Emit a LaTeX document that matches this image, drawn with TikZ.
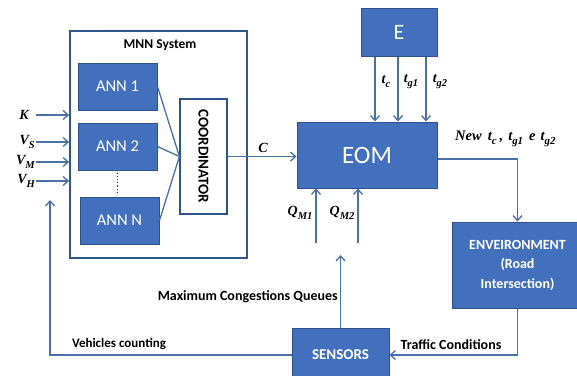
\documentclass[tikz,border=0pt]{standalone}
\usepackage{fontspec}
\setmainfont{Carlito}
\newfontfamily\labfont{Liberation Serif}
\usetikzlibrary{arrows.meta}
\definecolor{boxfill}{RGB}{66,112,188}
\definecolor{boxline}{RGB}{45,82,140}
\definecolor{conn}{RGB}{74,112,168}
\definecolor{framec}{RGB}{50,85,140}
\newcommand{\sbs}[1]{\raisebox{-0.28em}{\fontsize{0.75\dimexpr\fontdimen6\font\relax}{1em}\selectfont #1}}
\begin{document}
\begin{tikzpicture}[x=1pt,y=-1pt,
  bluebox/.style={draw=boxline,fill=boxfill,line width=1pt,text=white,inner sep=0pt},
  conline/.style={draw=conn,line width=1.3pt},
  arr/.style={conline,-{Straight Barb[length=5pt,width=9pt,line width=1.3pt]}},
  mlab/.style={font=\fontsize{14}{16}\selectfont\labfont\bfseries\itshape,inner sep=0pt},
  blab/.style={font=\fontsize{14}{16}\selectfont\bfseries,inner sep=0pt},
  anntext/.style={font=\fontsize{16.5}{18}\selectfont}]
\useasboundingbox (0,0) rectangle (577,375);
\fill[white] (0,0) rectangle (577,375);

% MNN system
\node[draw=framec,line width=1.8pt,fill=white,minimum width=177pt,minimum height=227pt,inner sep=0pt] (mnn) at (158.5,144.5) {};
\node[blab,font=\fontsize{13.5}{16}\selectfont\bfseries] (mnntitle) at (160,45) {MNN System};
\node[bluebox,anntext,minimum width=79pt,minimum height=47pt] (ann1) at (117.5,86.5) {ANN 1};
\node[bluebox,anntext,minimum width=79pt,minimum height=47pt] (ann2) at (117.5,146.5) {ANN 2};
\node[bluebox,anntext,minimum width=79pt,minimum height=47pt] (annN) at (119.5,220.5) {ANN N};
\draw[black!80,dotted,line width=1.2pt,shorten <=2pt,shorten >=2pt] (ann2.south) -- (ann2.south |- annN.north);
\node[draw=boxline,fill=white,line width=1.2pt,minimum width=47pt,minimum height=115pt,inner sep=0pt] (coord) at (203.5,156.5) {};
\node[rotate=-90,blab,font=\fontsize{15}{17}\selectfont\bfseries] (coordtext) at (coord.center) {COORDINATOR};
\draw[conline] (ann1.east) -- (coord.west);
\draw[conline] (ann2.east) -- (coord.west);
\draw[conline] (annN.east) -- (coord.west);

% inputs
\node[mlab,anchor=east] (k) at (29,115) {K};
\node[mlab,anchor=east] (vs) at (35,142) {V\sbs{S}};
\node[mlab,anchor=east] (vm) at (35,162) {V\sbs{M}};
\node[mlab,anchor=east] (vh) at (35,181) {V\sbs{H}};
\draw[arr] ([xshift=7pt]k.east) -- (mnn.west |- k.east);
\draw[arr] ([xshift=1pt]vs.east) -- (mnn.west |- vs.east);
\draw[arr] ([xshift=1pt]vm.east) -- (mnn.west |- vm.east);
\draw[arr] ([xshift=1pt]vh.east) -- (mnn.west |- vh.east);

% EOM and E
\node[bluebox,minimum width=140pt,minimum height=66pt,font=\fontsize{25}{28}\selectfont] (eom) at (367,155) {EOM};
\node[bluebox,minimum width=76pt,minimum height=48pt,font=\fontsize{22}{24}\selectfont] (e) at (399,32) {E};
\draw[arr] (coord.east) -- (eom.west |- coord.east);
\node[mlab] (clab) at (263,148) {C};
\draw[arr] ([xshift=-24pt]e.south) -- ([xshift=-24pt]e.south |- eom.north);
\draw[arr] ([xshift=-1pt]e.south) -- ([xshift=-1pt]e.south |- eom.north);
\draw[arr] ([xshift=27pt]e.south) -- ([xshift=27pt]e.south |- eom.north);
\node[mlab] (tc) at (386,82) {t\sbs{c}};
\node[mlab] (tg1) at (411,82) {t\sbs{g1}};
\node[mlab] (tg2) at (440,82) {t\sbs{g2}};

% environment
\node[bluebox,minimum width=131pt,minimum height=86pt,align=center,font=\fontsize{14}{19.5}\selectfont\bfseries] (env) at (517.5,265) {ENVEIRONMENT\\(Road\\Intersection)};
\draw[arr] ([yshift=-4pt]eom.east) -| (env.north);
\node[mlab,anchor=west,font=\fontsize{14.5}{17}\selectfont\labfont\bfseries\itshape] (newlab) at (455,139) {New\hspace{6pt}t\sbs{c}\hspace{3pt},\hspace{5pt}t\sbs{g1}\hspace{6pt}e\hspace{5pt}t\sbs{g2}};

% sensors
\node[bluebox,minimum width=97pt,minimum height=54pt,font=\fontsize{15}{17}\selectfont\bfseries] (sensors) at (340.5,355) {SENSORS};
\draw[arr] (env.south) |- (sensors.east);
\node[blab] (traffic) at (451,345) {Traffic Conditions};
\coordinate (mcq) at (340.5,255);
\draw[arr] (sensors.north) -- (mcq);
\node[blab,anchor=east] (maxq) at (338,297) {Maximum Congestions Queues};
\coordinate (q1) at (316,243);
\coordinate (q2) at (358,243);
\draw[arr] (q1) -- (q1 |- eom.south);
\draw[arr] (q2) -- (q2 |- eom.south);
\node[mlab] (qm1) at (300,213) {Q\sbs{M1}};
\node[mlab] (qm2) at (342,213) {Q\sbs{M2}};
\coordinate (fb) at (50,200);
\draw[arr] (sensors.west) -| (fb);
\node[blab,font=\fontsize{13}{15}\selectfont\bfseries] (veh) at (119,344) {Vehicles counting};
\end{tikzpicture}
\end{document}
